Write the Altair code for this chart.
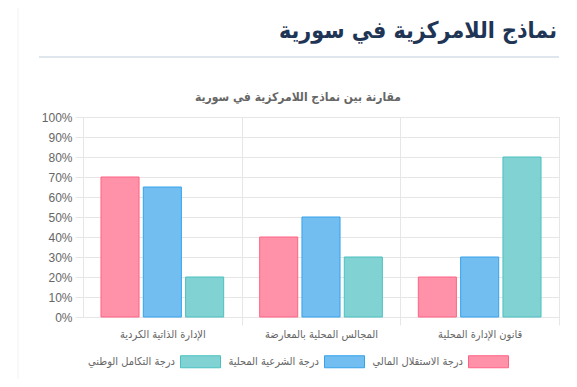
import altair as alt
import pandas as pd

title_text = ["نماذج اللامركزية في سورية"]
subtitle_text = ["مقارنة بين نماذج اللامركزية في سورية"]
categories = ["الإدارة الذاتية الكردية", "المجالس المحلية بالمعارضة", "قانون الإدارة المحلية"]
series = ["درجة الاستقلال المالي", "درجة الشرعية المحلية", "درجة التكامل الوطني"]
fiscal = [70, 40, 20]
legitimacy = [65, 50, 30]
integration = [20, 30, 80]
fills = ["#FF92A8", "#72BEF1", "#81D3D3"]
strokes = ["#FF6384", "#36A2EB", "#4BC0C0"]
y_ticks = list(range(0, 101, 10))

rows = []
for s, vals in zip(series, [fiscal, legitimacy, integration]):
    for c, v in zip(categories, vals):
        rows.append({"category": c, "series": s, "value": v})
df = pd.DataFrame(rows)

FONT = "Liberation Sans, DejaVu Sans, sans-serif"
AFONT = "DejaVu Sans Condensed, DejaVu Sans, sans-serif"
GRID = "#e6e6e6"

legend_kw = dict(
    title=None, orient="none", legendX=97, legendY=224, direction="horizontal",
    values=series[::-1], symbolType="M-1,-0.3H1V0.3H-1Z", symbolSize=1600,
    labelAlign="right", labelOffset={"expr": "-46"}, columnPadding=5,
    labelFontSize=11, labelColor="#666666", labelFont=AFONT, symbolStrokeWidth=1,
)

bars = alt.Chart(df).mark_bar(strokeWidth=1).encode(
    x=alt.X("category:N", sort=categories,
            scale=alt.Scale(paddingInner=0, paddingOuter=0),
            axis=alt.Axis(title=None, labelAngle=0, tickBand="extent", grid=True,
                          gridColor=GRID, tickColor=GRID, tickSize=8, domain=False,
                          labelPadding=3, labelFontSize=11, labelColor="#666666",
                          labelFont=AFONT,
                          gridOpacity={"condition": {"test": "datum.extra", "value": 0}, "value": 1},
                          tickOpacity={"condition": {"test": "datum.extra", "value": 0}, "value": 1})),
    xOffset=alt.XOffset("series:N", sort=series,
                        scale=alt.Scale(paddingInner=0.1, paddingOuter=0.425)),
    y=alt.Y("value:Q", scale=alt.Scale(domain=[0, 100], nice=False),
            axis=alt.Axis(title=None, values=y_ticks, labelExpr="datum.value + '%'",
                          grid=True, gridColor=GRID, tickColor=GRID, tickSize=8,
                          domainColor=GRID, labelPadding=3, labelFontSize=12,
                          labelColor="#666666", labelFont=FONT)),
    fill=alt.Fill("series:N", sort=series, scale=alt.Scale(domain=series, range=fills),
                  legend=alt.Legend(**legend_kw)),
    stroke=alt.Stroke("series:N", sort=series, scale=alt.Scale(domain=series, range=strokes),
                      legend=alt.Legend(**legend_kw)),
)

title = alt.Chart(pd.DataFrame({"t": title_text})).mark_text(
    align="right", baseline="middle", fontSize=23, fontWeight="bold",
    color="#1f3556", font=AFONT
).encode(text="t:N", x=alt.value(474), y=alt.value(-86))

subtitle = alt.Chart(pd.DataFrame({"t": subtitle_text})).mark_text(
    align="center", baseline="middle", fontSize=12, fontWeight="bold",
    color="#666666", font=AFONT
).encode(text="t:N", x=alt.value(215), y=alt.value(-20))

hrule = alt.Chart(pd.DataFrame({"t": [0]})).mark_rule(
    color="#dfe6ee", strokeWidth=2
).encode(x=alt.value(-44), x2=alt.value(476), y=alt.value(-60))

vrule = alt.Chart(pd.DataFrame({"t": [0]})).mark_rule(
    color="#f2f2f2", strokeWidth=1
).encode(x=alt.value(-65), y=alt.value(-117), y2=alt.value(270))

chart = alt.layer(vrule, hrule, title, subtitle, bars).properties(
    width=476, height=200,
    autosize=alt.AutoSizeParams(type="none"),
    padding={"left": 75, "top": 109, "right": 10, "bottom": 62},
).configure_view(stroke=None).configure(background="white")

chart.save("out.html", embed_options={"renderer": "svg", "actions": False})
